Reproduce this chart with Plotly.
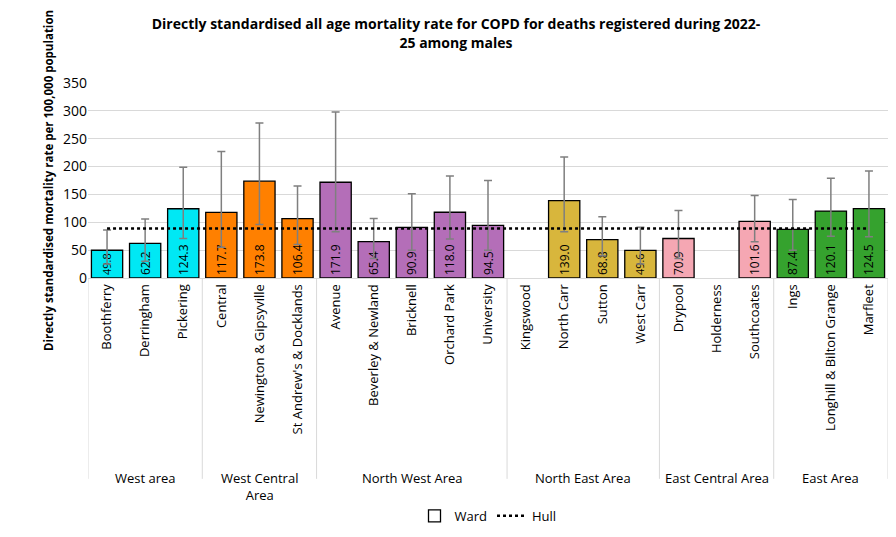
import plotly.graph_objects as go

wards = ["Boothferry", "Derringham", "Pickering", "Central", "Newington & Gipsyville",
         "St Andrew's & Docklands", "Avenue", "Beverley & Newland", "Bricknell",
         "Orchard Park", "University", "Kingswood", "North Carr", "Sutton", "West Carr",
         "Drypool", "Holderness", "Southcoates", "Ings", "Longhill & Bilton Grange", "Marfleet"]
rates = [49.8, 62.2, 124.3, 117.7, 173.8, 106.4, 171.9, 65.4, 90.9, 118.0, 94.5,
         None, 139.0, 68.8, 49.6, 70.9, None, 101.6, 87.4, 120.1, 124.5]
upper = [86, 106, 199, 227, 278, 165, 298, 107, 151, 183, 175,
         None, 217, 110, 91, 121, None, 148, 141, 179, 192]
lower = [25, 30, 71, 55, 96, 60, 83, 35, 50, 70, 50,
         None, 83, 40, 25, 35, None, 65, 50, 75, 74]
areas = ["West area", "West Central<br>Area", "North West Area", "North East Area",
         "East Central Area", "East Area"]
area_sizes = [3, 3, 5, 4, 3, 3]
area_colors = ["#00E8F4", "#FF8000", "#B46EB8", "#D8B63C", "#F5A7B3", "#35A22E"]
hull_rate = 89

x = list(range(len(wards)))
colors = []
for c, n in zip(area_colors, area_sizes):
    colors += [c] * n

fig = go.Figure()
fig.add_trace(go.Bar(
    x=x, y=rates, marker=dict(color=colors, line=dict(color="black", width=1.3)),
    width=0.82, showlegend=False,
    text=[f"{v:.1f}" if v is not None else "" for v in rates],
    textposition="inside", insidetextanchor="start", textangle=-90,
    textfont=dict(color="black", size=12),
    error_y=dict(type="data", symmetric=False,
                 array=[(u - r) if r is not None else None for u, r in zip(upper, rates)],
                 arrayminus=[(r - l) if r is not None else None for l, r in zip(lower, rates)],
                 color="#7f7f7f", thickness=1.5, width=4),
))
fig.add_trace(go.Bar(x=[None], y=[None], name="Ward",
                     marker=dict(color="white", line=dict(color="black", width=1.3))))
fig.add_trace(go.Scatter(x=[x[0], x[-1]], y=[hull_rate, hull_rate], mode="lines", name="Hull",
                         line=dict(color="black", width=2.5, dash="dot")))

shapes = []
annotations = []
pos = -0.5
for name, n in zip(areas, area_sizes):
    shapes.append(dict(type="line", xref="x", yref="paper", x0=pos, x1=pos, y0=0, y1=-1.03,
                       line=dict(color="#d9d9d9", width=1)))
    annotations.append(dict(xref="x", yref="paper", x=pos + n / 2, y=-0.97, yanchor="top",
                            text=name, showarrow=False, font=dict(size=13, color="black")))
    pos += n
shapes.append(dict(type="line", xref="x", yref="paper", x0=pos, x1=pos, y0=0, y1=-1.03,
                   line=dict(color="#d9d9d9", width=1)))

fig.update_layout(
    width=896, height=537,
    font=dict(family="Open Sans, Liberation Sans", size=13, color="black"),
    title=dict(text="<b>Directly standardised all age mortality rate for COPD for deaths registered during 2022-<br>25 among males</b>",
               x=0.5, y=0.96, xanchor="center", yanchor="top", font=dict(size=14)),
    margin=dict(l=80, r=16, t=75, b=267),
    plot_bgcolor="white", paper_bgcolor="white",
    xaxis=dict(tickvals=x, ticktext=wards, tickangle=-90, range=[-0.5, len(wards) - 0.5],
               showline=True, linecolor="#d9d9d9", ticks="", tickfont=dict(size=13),
               automargin=False),
    yaxis=dict(range=[0, 350], dtick=50, gridcolor="#d9d9d9", zeroline=False,
               tickfont=dict(size=14), automargin=False,
               title=dict(text="<b>Directly standardised mortality rate per 100,000 population</b>",
                          font=dict(size=11.5), standoff=6)),
    legend=dict(orientation="h", x=0.5, xanchor="center", y=-1.22, yanchor="middle",
                font=dict(size=13)),
    shapes=shapes, annotations=annotations,
)
fig.write_html("out.html")
